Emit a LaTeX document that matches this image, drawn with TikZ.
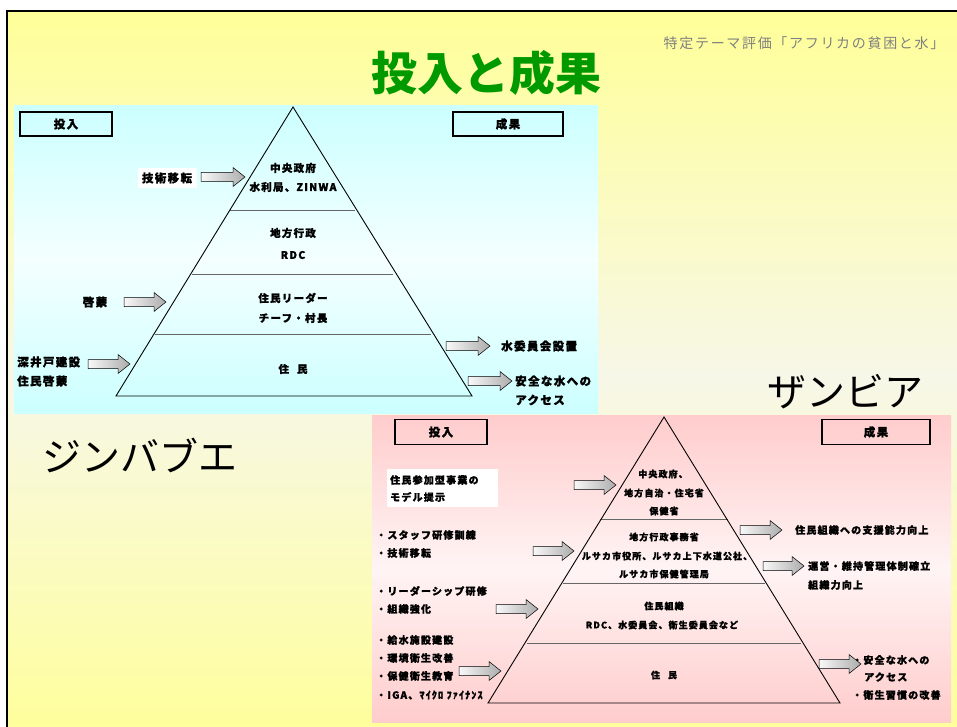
\documentclass[tikz,border=0pt]{standalone}
\usepackage{fontspec}
\newfontfamily\jp{Noto Sans CJK JP}
\newfontfamily\jpsp{Noto Sans CJK JP}[LetterSpace=12, BoldFeatures={FakeBold=1.3}]
\definecolor{yel}{HTML}{FFFF99}
\definecolor{bgmid}{HTML}{F7F7E8}
\definecolor{cy}{HTML}{CCFFFF}
\definecolor{cymid}{HTML}{F4FFFF}
\definecolor{pk}{HTML}{FFCCCC}
\definecolor{pkmid}{HTML}{FFF4F4}
\definecolor{titlegreen}{HTML}{009900}
\definecolor{subgray}{HTML}{808080}
\tikzset{
  tl/.style={font=\jpsp\bfseries\fontsize{11.5}{13}\selectfont, inner sep=0pt},
  tp/.style={font=\jpsp\bfseries\fontsize{10.5}{12}\selectfont, inner sep=0pt},
  bl/.style={font=\jpsp\bfseries\fontsize{10}{12}\selectfont, inner sep=0pt},
  bp/.style={font=\jpsp\bfseries\fontsize{9}{11}\selectfont, inner sep=0pt},
  hdrbox/.style={draw=black, line width=1.4pt},
  layer/.style={draw=black!60, line width=0.9pt},
  pyr/.style={draw=black, line width=0.9pt},
  arrowfill/.style={left color=gray!5, right color=gray!65, draw=black, line width=0.5pt},
}
\newcommand\barrow[3]{%
  \shadedraw[arrowfill] (#1,#3-4.5) -- (#2-12,#3-4.5) -- (#2-12,#3-9.5) -- (#2,#3)
    -- (#2-12,#3+9.5) -- (#2-12,#3+4.5) -- (#1,#3+4.5) -- cycle;}
\begin{document}
\begin{tikzpicture}[x=1pt,y=-1pt]
\useasboundingbox (0,0) rectangle (957,727);
\fill[white] (0,0) rectangle (957,727);
% slide background
\shadedraw[draw=black, line width=2pt, top color=yel, bottom color=yel, middle color=bgmid] (7,11) rectangle (975,745);
% panels
\shade[top color=cy, bottom color=cy, middle color=cymid] (14,106) rectangle (598,413);
\shade[top color=pk, bottom color=pk, middle color=pkmid] (372,415) rectangle (951,722);

% titles
\node[font=\jp\bfseries\fontsize{46}{50}\selectfont, text=titlegreen, inner sep=0pt] (title) at (486,73) {投入と成果};
\node[font=\jpsp\fontsize{14}{16}\selectfont, text=subgray, inner sep=0pt] (sub) at (804,43) {特定テーマ評価「アフリカの貧困と水」};
\node[font=\jp\fontsize{39}{42}\selectfont, inner sep=0pt] (zim) at (140,455) {ジンバブエ};
\node[font=\jp\fontsize{39}{42}\selectfont, inner sep=0pt] (zam) at (845,392) {ザンビア};

% ===== top (Zimbabwe) =====
\draw[layer] (230,210) -- (355,210);
\draw[layer] (192,274) -- (393,274);
\draw[layer] (155,334) -- (431,334);
\draw[pyr] (293,107) -- (116,396) -- (472,396) -- cycle;

\node[hdrbox, minimum width=92, minimum height=24] (zin) at (66,124) {};
\node[tl] (zinT) at (zin.center) {投入};
\node[hdrbox, minimum width=110, minimum height=24] (zout) at (508,124) {};
\node[tl] (zoutT) at (zout.center) {成果};

\node[tp] (z1a) at (293,168) {中央政府};
\node[tp] (z1b) at (293,187) {水利局、ZINWA};
\node[tp] (z2a) at (293,233) {地方行政};
\node[tp] (z2b) at (293,255) {RDC};
\node[tp] (z3a) at (293,298) {住民リーダー};
\node[tp] (z3b) at (293,318) {チーフ・村長};
\node[tp] (z4) at (293,369) {住\hspace{8pt}民};

\node[tl, fill=white, minimum width=59, minimum height=20] (zi1) at (167,178) {技術移転};
\node[tl] (zi2) at (95,302) {啓蒙};
\node[tl, anchor=west] (zi3a) at (17,362) {深井戸建設};
\node[tl, anchor=west] (zi3b) at (17,381) {住民啓蒙};
\node[tl, anchor=west] (zo1) at (501,346) {水委員会設置};
\node[tl, anchor=west] (zo2a) at (515,381) {安全な水への};
\node[tl, anchor=west] (zo2b) at (515,400) {アクセス};

\barrow{201}{245}{177}
\barrow{124}{166}{302}
\barrow{88}{130}{364}
\barrow{446}{490}{346}
\barrow{468}{512}{381}

% ===== bottom (Zambia) =====
\draw[layer] (600,519) -- (728,519);
\draw[layer] (563,583) -- (765,583);
\draw[layer] (527,643) -- (801,643);
\draw[pyr] (664,417) -- (488,703) -- (840,703) -- cycle;

\node[hdrbox, minimum width=92, minimum height=25] (bin) at (441,432) {};
\node[tl] (binT) at (bin.center) {投入};
\node[hdrbox, minimum width=108, minimum height=25] (bout) at (876,432) {};
\node[tl] (boutT) at (bout.center) {成果};

\node[bp] (b1a) at (663,474) {中央政府、};
\node[bp] (b1b) at (664,493) {地方自治・住宅省};
\node[bp] (b1c) at (664,511) {保健省};
\node[bp] (b2a) at (664,537) {地方行政事務省};
\node[bp] (b2b) at (667,556) {ルサカ市役所、ルサカ上下水道公社、};
\node[bp] (b2c) at (664,574) {ルサカ市保健管理局};
\node[bp] (b3a) at (664,606) {住民組織};
\node[bp] (b3b) at (662,625) {RDC、水委員会、衛生委員会など};
\node[bp] (b4) at (664,675) {住\hspace{8pt}民};

\node[fill=white, minimum width=111, minimum height=38, anchor=north west, inner sep=0pt] (wbox) at (387,469) {};
\node[bl, anchor=west] (bi1a) at (390,480) {住民参加型事業の};
\node[bl, anchor=west] (bi1b) at (390,497) {モデル提示};
\node[bl, anchor=west] (bi2a) at (376,535) {・スタッフ研修訓練};
\node[bl, anchor=west] (bi2b) at (376,553) {・技術移転};
\node[bl, anchor=west] (bi3a) at (376,591) {・リーダーシップ研修};
\node[bl, anchor=west] (bi3b) at (376,609) {・組織強化};
\node[bl, anchor=west] (bi4a) at (376,640) {・給水施設建設};
\node[bl, anchor=west] (bi4b) at (376,658) {・環境衛生改善};
\node[bl, anchor=west] (bi4c) at (376,676) {・保健衛生教育};
\node[bl, anchor=west] (bi4d) at (376,695) {・IGA、ﾏｲｸﾛ ﾌｧｲﾅﾝｽ};

\node[bl, anchor=west] (bo1) at (795,530) {住民組織への支援能力向上};
\node[bl, anchor=west] (bo2a) at (808,566) {運営・維持管理体制確立};
\node[bl, anchor=west] (bo2b) at (808,585) {組織力向上};
\node[bl, anchor=west] (bo3a) at (852,660) {・安全な水への};
\node[bl, anchor=west] (bo3b) at (864,677) {アクセス};
\node[bl, anchor=west] (bo3c) at (852,695) {・衛生習慣の改善};

\barrow{574}{616}{485}
\barrow{533}{574}{551}
\barrow{496}{538}{609}
\barrow{459}{501}{671}
\barrow{740}{782}{530}
\barrow{763}{804}{566}
\barrow{819}{861}{664}
\end{tikzpicture}
\end{document}
